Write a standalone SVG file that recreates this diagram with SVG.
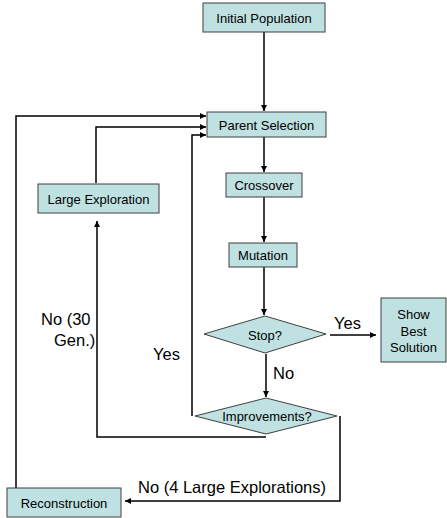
<svg xmlns="http://www.w3.org/2000/svg" width="447" height="518" viewBox="0 0 447 518">
<defs>
<marker id="ah" viewBox="0 0 10 10" refX="10" refY="5" markerWidth="6" markerHeight="6" markerUnits="userSpaceOnUse" orient="auto">
<path d="M0,0 L10,5 L0,10 z" fill="#000"/>
</marker>
<style>
.box{fill:#bfe1e1;stroke:#3f3f3f;stroke-width:1}
.t{font-family:"Liberation Sans",Arial,sans-serif;font-size:13px;fill:#000;text-anchor:middle;dominant-baseline:central}
.lbl{font-family:"Liberation Sans",Arial,sans-serif;font-size:16.5px;fill:#000}
.c{fill:none;stroke:#000;stroke-width:1.5}
</style>
</defs>
<rect width="447" height="518" fill="#fff"/>
<g id="connectors">
<path class="c" d="M264,32 V111" marker-end="url(#ah)"/>
<path class="c" d="M264,137 V172" marker-end="url(#ah)"/>
<path class="c" d="M264,197 V242" marker-end="url(#ah)"/>
<path class="c" d="M264,267 V315" marker-end="url(#ah)"/>
<path class="c" d="M330,335 H376" marker-end="url(#ah)"/>
<path class="c" d="M266,354 V397" marker-end="url(#ah)"/>
<path class="c" d="M192,416 V135 H206" marker-end="url(#ah)"/>
<path class="c" d="M266,437 H97 V221" marker-end="url(#ah)"/>
<path class="c" d="M96,183 V127 H206" marker-end="url(#ah)"/>
<path class="c" d="M340,416 V501 H125" marker-end="url(#ah)"/>
<path class="c" d="M16,488 V116 H206" marker-end="url(#ah)"/>
</g>
<g id="initial-population">
<rect class="box" x="203" y="3" width="122" height="29"/>
<text class="t" x="264" y="18">Initial Population</text>
</g>
<g id="parent-selection">
<rect class="box" x="207" y="112" width="119" height="25"/>
<text class="t" x="266.5" y="125">Parent Selection</text>
</g>
<g id="crossover">
<rect class="box" x="226" y="173" width="76" height="24"/>
<text class="t" x="264" y="185">Crossover</text>
</g>
<g id="mutation">
<rect class="box" x="229" y="243" width="68" height="24"/>
<text class="t" x="263" y="255">Mutation</text>
</g>
<g id="stop">
<polygon class="box" points="265,316 326,334 265,353 204,334"/>
<text class="t" x="265" y="335">Stop?</text>
</g>
<g id="show-best-solution">
<rect class="box" x="381" y="298" width="65" height="64"/>
<text class="t" x="413.5" y="314">Show</text>
<text class="t" x="413.5" y="331">Best</text>
<text class="t" x="413.5" y="347">Solution</text>
</g>
<g id="improvements">
<polygon class="box" points="266,398 337,416 266,434 195,416"/>
<text class="t" x="267" y="416">Improvements?</text>
</g>
<g id="large-exploration">
<rect class="box" x="38" y="184" width="121" height="29"/>
<text class="t" x="98.5" y="199">Large Exploration</text>
</g>
<g id="reconstruction">
<rect class="box" x="7" y="488" width="114" height="29"/>
<text class="t" x="64" y="503">Reconstruction</text>
</g>
<g id="labels">
<text class="lbl" x="334" y="329">Yes</text>
<text class="lbl" x="273" y="379">No</text>
<text class="lbl" x="153" y="360">Yes</text>
<text class="lbl" x="41" y="325">No (30</text>
<text class="lbl" x="54" y="346">Gen.)</text>
<text class="lbl" x="138" y="493">No (4 Large Explorations)</text>
</g>
</svg>
